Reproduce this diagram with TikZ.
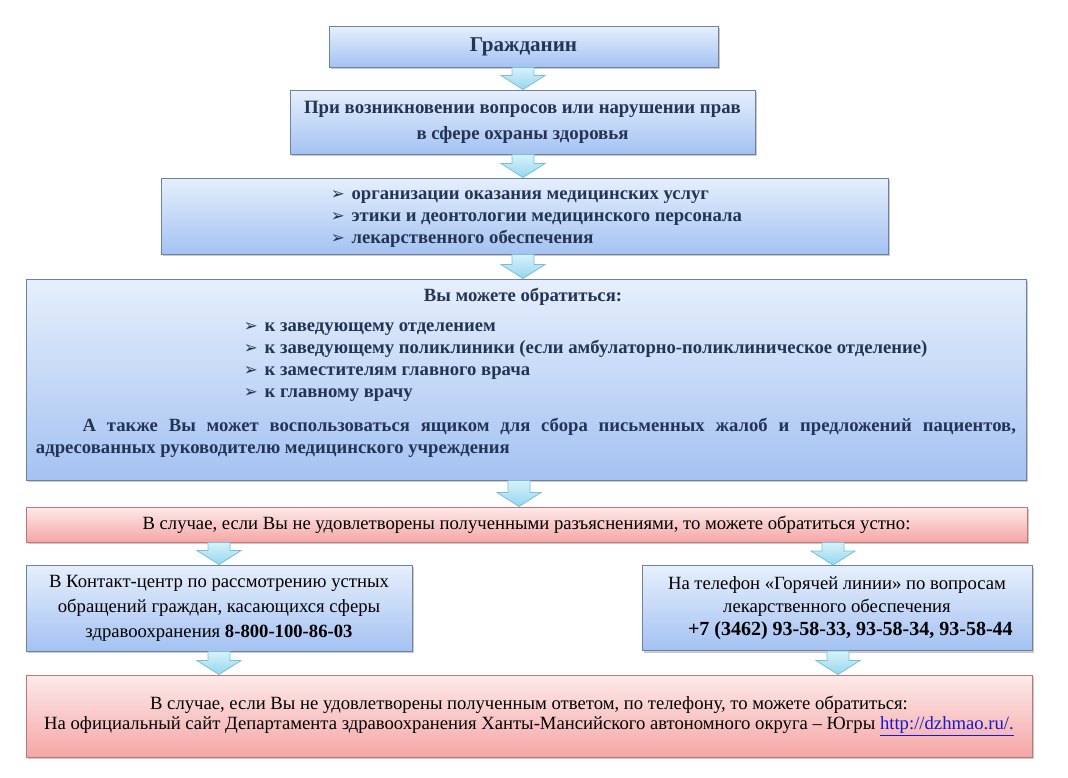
\documentclass[tikz,border=0pt]{standalone}
\usepackage{fontspec}
\setmainfont{Liberation Serif}
\newfontfamily\symfont{DejaVu Sans}
\usetikzlibrary{calc,shadows}

\definecolor{boxtop}{RGB}{230,239,252}
\definecolor{boxbot}{RGB}{164,194,242}
\definecolor{boxline}{RGB}{108,130,160}
\definecolor{pinktop}{RGB}{253,234,234}
\definecolor{pinkbot}{RGB}{245,166,166}
\definecolor{pinkline}{RGB}{192,118,118}
\definecolor{arrtop}{RGB}{214,242,251}
\definecolor{arrbot}{RGB}{150,214,238}
\definecolor{arrline}{RGB}{120,190,216}
\definecolor{navy}{RGB}{36,52,84}
\definecolor{linkblue}{RGB}{24,24,210}

\tikzset{every picture/.style={line width=0.75pt}}
\tikzset{
	bluebox/.style={draw=boxline, top color=boxtop, bottom color=boxbot, inner sep=0pt,
		drop shadow={shadow xshift=1.5pt, shadow yshift=-1.5pt, opacity=0.35, fill=black!60}},
	pinkbox/.style={draw=pinkline, top color=pinktop, bottom color=pinkbot, inner sep=0pt,
		drop shadow={shadow xshift=1.5pt, shadow yshift=-1.5pt, opacity=0.35, fill=black!60}},
	blkarrow/.style={draw=arrline, line width=0.6pt, top color=arrtop, bottom color=arrbot},
	headtxt/.style={text=navy, align=center},
	plaintxt/.style={text=black, align=center},
}
\newcommand{\bul}{\makebox[15.5pt][l]{\symfont\fontsize{12.5}{12}\selectfont ➢}}
% block arrow: from node, to node, x position
\newcommand{\blkarrow}[3]{%
	\coordinate (at) at (#3,0 |- #1.south);
	\coordinate (ah) at (#3,0 |- #2.north);
	\draw [blkarrow] ($(at)+(-11,0)$) -- ($(at)+(11,0)$) -- ($(ah)+(11,-14)$) -- ($(ah)+(22,-14)$) -- (ah) -- ($(ah)+(-22,-14)$) -- ($(ah)+(-11,-14)$) -- cycle ;}

\begin{document}
\begin{tikzpicture}[x=0.75pt,y=0.75pt,yscale=-1,xscale=1]
	\useasboundingbox (0,0) rectangle (1068,778);

	%Shape: Rectangle [citizen]
	\node [bluebox, headtxt, minimum width=291.75pt, minimum height=30.75pt, font=\fontsize{15.8}{18}\selectfont\bfseries] (citizen) at (523.5,46.5) {Гражданин};
	%Shape: Rectangle [issue]
	\node [bluebox, headtxt, minimum width=348.75pt, minimum height=48pt, font=\fontsize{14.1}{19.5}\selectfont\bfseries] (issue) at (522.5,122) {При возникновении вопросов или нарушении прав\\в сфере охраны здоровья};
	%Shape: Rectangle [topics]
	\node [bluebox, minimum width=545.25pt, minimum height=57pt] (topics) at (524.5,216) {};
	%Shape: Rectangle [contacts]
	\node [bluebox, minimum width=750pt, minimum height=150.75pt] (contacts) at (526,379.5) {};
	%Shape: Rectangle [oral]
	\node [pinkbox, plaintxt, minimum width=750.75pt, minimum height=26.25pt, font=\fontsize{14}{15}\selectfont] (oral) at (526.5,524.5) {В случае, если Вы не удовлетворены полученными разъяснениями, то можете обратиться устно:};
	%Shape: Rectangle [callcenter]
	\node [bluebox, plaintxt, minimum width=289.5pt, minimum height=64.5pt, font=\fontsize{14}{18.75}\selectfont] (callcenter) at (219,608) {В Контакт-центр по рассмотрению устных\\обращений граждан, касающихся сферы\\здравоохранения \textbf{8-800-100-86-03}};
	%Shape: Rectangle [hotline]
	\node [bluebox, plaintxt, minimum width=292.5pt, minimum height=63.75pt, font=\fontsize{14}{17}\selectfont] (hotline) at (837,608) {На телефон «Горячей линии» по вопросам\\лекарственного обеспечения\\\hspace*{20pt}{\fontsize{15}{17}\selectfont\bfseries +7 (3462) 93-58-33, 93-58-34, 93-58-44}};
	%Shape: Rectangle [website]
	\node [pinkbox, plaintxt, minimum width=754.5pt, minimum height=61.5pt, font=\fontsize{14}{15}\selectfont] (website) at (529,716) {В случае, если Вы не удовлетворены полученным ответом, по телефону, то можете обратиться:\\На официальный сайт Департамента здравоохранения Ханты-Мансийского автономного округа – Югры {\color{linkblue}\underline{http://dzhmao.ru/.}}};

	% Text Node
	\node [headtxt, align=left, anchor=west, font=\fontsize{14}{16.5}\selectfont\bfseries] (topicslist) at (326,219) {\bul организации оказания медицинских услуг\\\bul этики и деонтологии медицинского персонала\\\bul лекарственного обеспечения};
	% Text Node
	\node [headtxt, font=\fontsize{14}{16.5}\selectfont\bfseries] (contactshead) at (523,297) {Вы можете обратиться:};
	% Text Node
	\node [headtxt, align=left, anchor=west, font=\fontsize{14}{16.5}\selectfont\bfseries] (contactslist) at (239,362) {\bul к заведующему отделением\\\bul к заведующему поликлиники (если амбулаторно-поликлиническое отделение)\\\bul к заместителям главного врача\\\bul к главному врачу};
	% Text Node
	\node [headtxt, align=justify, text width=735pt, font=\fontsize{14}{16.5}\selectfont\bfseries] (contactsbox) at (526,438) {\hspace*{35pt}А также Вы может воспользоваться ящиком для сбора письменных жалоб и предложений пациентов, адресованных руководителю медицинского учреждения};

	%Block Arrows
	\blkarrow{citizen}{issue}{523}
	\blkarrow{issue}{topics}{523}
	\blkarrow{topics}{contacts}{523}
	\blkarrow{contacts}{oral}{519}
	\blkarrow{oral}{callcenter}{219}
	\blkarrow{oral}{hotline}{833}
	\blkarrow{callcenter}{website}{219}
	\blkarrow{hotline}{website}{838}

\end{tikzpicture}
\end{document}
